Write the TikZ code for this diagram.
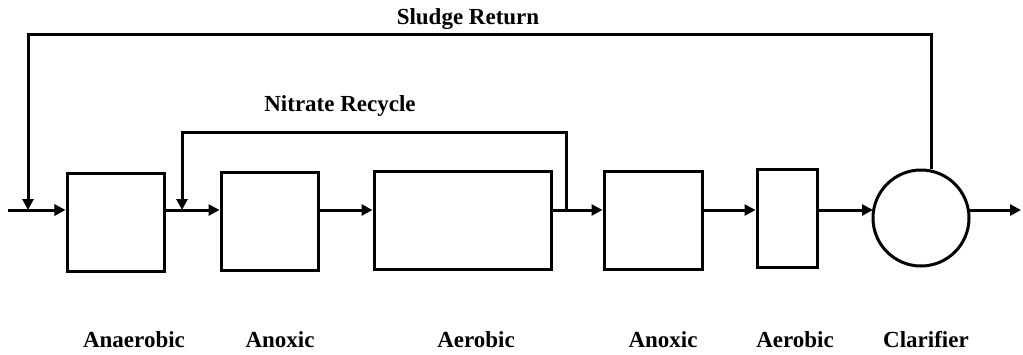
\documentclass[tikz,border=0pt]{standalone}
\usepackage{fontspec}
\setmainfont{Liberation Serif}
\usetikzlibrary{arrows.meta}
\begin{document}
\begin{tikzpicture}[x=1bp,y=-1bp,
  tank/.style={draw,line width=3bp,minimum width=#1,inner sep=0pt,minimum height=98bp},
  flow/.style={line width=3bp,-{Triangle[length=11bp,width=11bp]}},
  lab/.style={font=\fontsize{23bp}{26bp}\selectfont\bfseries,inner sep=0pt}]
\useasboundingbox (0,0) rectangle (1023,354);
\node[tank=97bp] (b1) at (115.5,222) {};
\node[tank=97bp] (b2) at (269.5,221) {};
\node[tank=177bp] (b3) at (462.5,220) {};
\node[tank=98bp] (b4) at (653,220) {};
\node[tank=60bp] (b5) at (787,218) {};
\node[draw,circle,line width=3bp,minimum size=96bp,inner sep=0pt] (cl) at (921,218) {};
\coordinate (in) at (8,210);
\coordinate (sj) at (28,210);
\coordinate (nj) at (182,210);
\coordinate (ns) at (566,210);
\coordinate (out) at (1021,210);
\coordinate (st) at (931,34);
\coordinate (sl) at (28,34);
\coordinate (nt) at (566,132);
\coordinate (nl) at (182,132);
% main flow
\draw[flow] (in) -- (b1.west |- in);
\draw[flow] (b1.east |- nj) -- (b2.west |- nj);
\draw[flow] (b2.east |- nj) -- (b3.west |- nj);
\draw[flow] (b3.east |- ns) -- (b4.west |- ns);
\draw[flow] (b4.east |- ns) -- (b5.west |- ns);
\draw[flow] (b5.east |- ns) -- (873,210);
\draw[flow] (969,210) -- (out);
% sludge return
\draw[flow] (cl.north -| st) -- (st) -- (sl) -- (sj);
% nitrate recycle
\draw[flow] (ns) -- (nt) -- (nl) -- (nj);
% labels
\node[lab] (ls) at (468,19) {Sludge Return};
\node[lab] (ln) at (340,106) {Nitrate Recycle};
\node[lab] (l1) at (134,340) {Anaerobic};
\node[lab] (l2) at (280,340) {Anoxic};
\node[lab] (l3) at (476,340) {Aerobic};
\node[lab] (l4) at (663,340) {Anoxic};
\node[lab] (l5) at (795,340) {Aerobic};
\node[lab] (l6) at (926,340) {Clarifier};
\end{tikzpicture}
\end{document}
